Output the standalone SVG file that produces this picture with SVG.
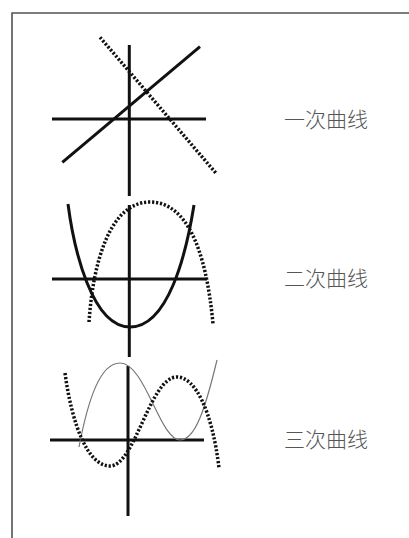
<svg xmlns="http://www.w3.org/2000/svg" width="409" height="538" viewBox="0 0 409 538">
<style>
.axis{stroke:#111;stroke-width:3;fill:none}
.solid{stroke:#111;stroke-width:3;fill:none}
.dot{stroke:#111;stroke-width:3.5;fill:none;stroke-dasharray:2.2 1.8}
.thin{stroke:#777;stroke-width:1.2;fill:none}
.lbl{font-family:"Noto Sans CJK SC","Noto Sans",sans-serif;font-size:21px;font-weight:300;fill:#555}
</style>
<rect width="409" height="538" fill="#fff"/>
<path d="M12,538 V13 H409" stroke="#4d5552" stroke-width="1.6" fill="none"/>
<g id="linear">
<line class="axis" x1="129.3" y1="45" x2="129.3" y2="196"/>
<line class="axis" x1="52" y1="119" x2="206" y2="119"/>
<line class="solid" x1="62.3" y1="162.3" x2="200" y2="46.7"/>
<line class="dot" x1="100" y1="37.3" x2="216.7" y2="174"/>
<text class="lbl" x="284" y="127">一次曲线</text>
</g>
<g id="quadratic">
<line class="axis" x1="129.3" y1="205" x2="129.3" y2="357"/>
<line class="axis" x1="52" y1="279" x2="207" y2="279"/>
<path class="solid" d="M68,204 C74,250 92,327 130,327 C168,327 186,255 194,205"/>
<path class="dot" d="M89,322 C93,262 110,202 150,202 C186,202 206,248 213,324"/>
<text class="lbl" x="284" y="286">二次曲线</text>
</g>
<g id="cubic">
<line class="axis" x1="128" y1="366" x2="128" y2="516"/>
<line class="axis" x1="50" y1="440" x2="204" y2="440"/>
<path class="thin" d="M79,447 C88,400 100,363 120,363 C145,363 160,440 180,440 C195,440 205,410 217,360"/>
<path class="dot" d="M65,373 C72,425 88,466 110,466 C135,466 150,377 177,377 C195,377 212,410 219,468"/>
<text class="lbl" x="284" y="447">三次曲线</text>
</g>
</svg>
